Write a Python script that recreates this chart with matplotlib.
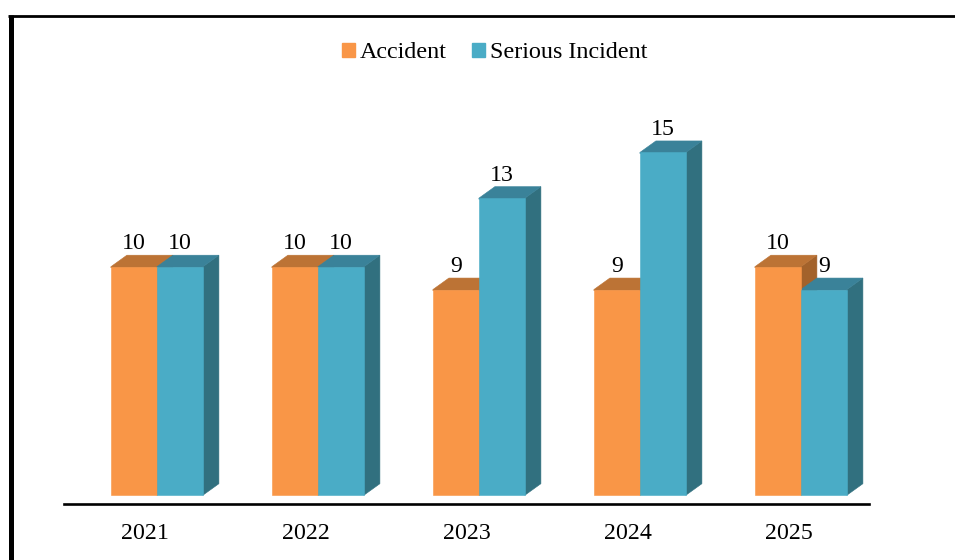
"""Grouped pseudo-3D bars: accidents and serious incidents per year."""
import matplotlib
matplotlib.use("Agg")
import matplotlib.pyplot as plt
from matplotlib.lines import Line2D
from matplotlib.patches import Patch, Polygon

years = ["2021", "2022", "2023", "2024", "2025"]
accident = [10, 10, 9, 9, 10]
serious = [10, 10, 13, 15, 9]

W, H = 955, 560
plt.rcParams["font.family"] = ["Liberation Serif", "DejaVu Serif"]
FS = 17.2

# pixel geometry of the plot area
X0, X1, Y_AXIS, Y_ZERO, Y_TOP = 64, 869, 504, 495.2, 100
PX_PER_UNIT = 22.85
PX_PER_CAT = (X1 - X0) / 5

BAR_W = 46 / PX_PER_CAT
SHIFT = 12.4 / PX_PER_CAT
DX = 16 / PX_PER_CAT
DY = 11.5 / PX_PER_UNIT
OVERLAP = 1 / PX_PER_UNIT

fig = plt.figure(figsize=(W / 100, H / 100), dpi=100, facecolor="white")
ax = fig.add_axes([X0 / W, 1 - Y_AXIS / H, (X1 - X0) / W, (Y_AXIS - Y_TOP) / H])
ax.set_xlim(-0.5, 4.5)
ax.set_ylim(-(Y_AXIS - Y_ZERO) / PX_PER_UNIT, (Y_ZERO - Y_TOP) / PX_PER_UNIT)
ax.patch.set_visible(False)
for side in ("top", "left", "right"):
    ax.spines[side].set_visible(False)
ax.spines["bottom"].set_linewidth(1.9)
ax.set_yticks([])
ax.set_xticks(range(len(years)), years)
ax.tick_params(axis="x", length=0, pad=14, labelsize=FS)


def draw_series(values, offset, front, top, side):
    for i, v in enumerate(values):
        x = i + SHIFT + offset
        left, right = x - BAR_W / 2, x + BAR_W / 2
        # fronts sit above every top and side face so the seam between bars stays clean
        ax.bar(x, v, BAR_W, color=front, edgecolor=front, linewidth=0.4, zorder=3)
        ax.add_patch(Polygon([(right, 0), (right + DX, DY), (right + DX, v + DY), (right, v)],
                             closed=True, fc=side, ec=side, lw=0.4, zorder=2))
        # top face dips under the front by a pixel, hides the neighbour's side there
        ax.add_patch(Polygon([(left, v - OVERLAP), (right, v - OVERLAP), (right, v),
                              (right + DX, v + DY), (left + DX, v + DY), (left, v)],
                             closed=True, fc=top, ec=top, lw=0.4, zorder=2))
        ax.annotate(str(v), (x, v), xytext=(0, 16.4), textcoords="offset points",
                    ha="center", va="center", fontsize=FS, color="black", zorder=5)


draw_series(accident, -BAR_W / 2, "#F99647", "#BC7335", "#A3622B")
draw_series(serious, BAR_W / 2, "#4AACC6", "#3A8299", "#31707F")

handles = [Patch(fc="#F99647", ec="#F99647", label="Accident"),
           Patch(fc="#4AACC6", ec="#4AACC6", label="Serious Incident")]
fig.legend(handles=handles, loc="center", bbox_to_anchor=(494.5 / W, 1 - 53 / H), ncol=2,
           frameon=False, fontsize=17.4, handlelength=0.54, handleheight=0.54,
           handletextpad=0.21, columnspacing=1.04)

# outer frame, cut off by the image on the right and bottom
fig.add_artist(Line2D([10.5 / W, 10.5 / W], [0, 1 - 15 / H], color="black", lw=3.6,
                      solid_capstyle="butt"))
fig.add_artist(Line2D([8 / W, 1], [1 - 15.5 / H, 1 - 15.5 / H], color="black", lw=2.0,
                      solid_capstyle="butt"))

fig.savefig("out.png", dpi=100)
plt.close(fig)
